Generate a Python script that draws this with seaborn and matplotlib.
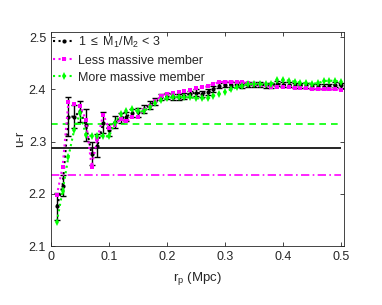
import numpy as np
import pandas as pd
import seaborn as sns
import matplotlib.pyplot as plt

rp = [round(0.01 * i, 2) for i in range(1, 51)]

all_pairs = [2.176, 2.216, 2.348, 2.348, 2.358, 2.332, 2.277, 2.292, 2.336, 2.322,
             2.338, 2.345, 2.348, 2.355, 2.356, 2.362, 2.370, 2.377, 2.386, 2.388,
             2.386, 2.386, 2.388, 2.392, 2.394, 2.392, 2.395, 2.401, 2.407, 2.409,
             2.409, 2.409, 2.408, 2.409, 2.409, 2.409, 2.408, 2.408, 2.411, 2.409,
             2.409, 2.408, 2.408, 2.408, 2.406, 2.406, 2.405, 2.406, 2.409, 2.408]
all_err = [0.026, 0.020, 0.037, 0.022, 0.020, 0.030, 0.022, 0.022, 0.020, 0.012,
           0.012, 0.009, 0.009, 0.008, 0.008, 0.008, 0.007, 0.007, 0.006, 0.006,
           0.006, 0.006, 0.006, 0.006, 0.006, 0.006, 0.006, 0.005, 0.005, 0.005,
           0.005, 0.005, 0.005, 0.005, 0.005, 0.005, 0.005, 0.005, 0.005, 0.005,
           0.005, 0.005, 0.005, 0.005, 0.005, 0.005, 0.005, 0.005, 0.005, 0.005]
less_massive = [2.197, 2.252, 2.376, 2.372, 2.369, 2.342, 2.252, 2.306, 2.352, 2.326,
                2.332, 2.343, 2.339, 2.347, 2.348, 2.361, 2.368, 2.377, 2.388, 2.392,
                2.393, 2.395, 2.398, 2.399, 2.402, 2.404, 2.406, 2.411, 2.414, 2.415,
                2.415, 2.415, 2.414, 2.412, 2.411, 2.408, 2.408, 2.405, 2.405, 2.404,
                2.404, 2.403, 2.403, 2.402, 2.401, 2.401, 2.400, 2.400, 2.400, 2.399]
more_massive = [2.146, 2.206, 2.271, 2.323, 2.355, 2.313, 2.311, 2.311, 2.311, 2.310,
                2.336, 2.353, 2.358, 2.362, 2.358, 2.358, 2.367, 2.375, 2.379, 2.384,
                2.385, 2.385, 2.385, 2.385, 2.383, 2.383, 2.383, 2.388, 2.392, 2.396,
                2.400, 2.404, 2.407, 2.410, 2.411, 2.410, 2.410, 2.410, 2.419, 2.418,
                2.417, 2.415, 2.413, 2.412, 2.411, 2.412, 2.416, 2.417, 2.416, 2.415]

# sample means (horizontal reference lines)
mean_all = 2.288
mean_less = 2.237
mean_more = 2.333

labels = [r'1 $\leq$ M$_1$/M$_2$ < 3', 'Less massive member', 'More massive member']

sns.set_style("ticks")
plt.rcParams['font.family'] = ['Liberation Sans', 'DejaVu Sans']
plt.rcParams['mathtext.fontset'] = 'custom'
plt.rcParams['mathtext.rm'] = 'Liberation Sans'
plt.rcParams['mathtext.it'] = 'Liberation Sans'

df = pd.DataFrame({'rp': rp, 'all': all_pairs, 'less': less_massive, 'more': more_massive})

fig = plt.figure(figsize=(3.82, 3.05), dpi=100)
ax = fig.add_axes([0.1335, 0.193, 0.767, 0.702])

ax.errorbar(df['rp'], df['all'], yerr=all_err, fmt='none', ecolor='black',
            elinewidth=1.0, capsize=2.5, capthick=1.0, zorder=2)
sns.lineplot(data=df, x='rp', y='all', ax=ax, color='black', linestyle=':', marker='o',
             markersize=3, markeredgewidth=0, label=labels[0], zorder=3)
sns.lineplot(data=df, x='rp', y='less', ax=ax, color='#ff00ff', linestyle=':', marker='s',
             markersize=3.3, markeredgewidth=0, label=labels[1], zorder=4)
sns.lineplot(data=df, x='rp', y='more', ax=ax, color='#00ff00', linestyle=':', marker='d',
             markersize=4, markeredgewidth=0, label=labels[2], zorder=5)

ax.hlines(mean_all, 0, rp[-1], colors='black', linestyles='-', linewidth=1.2)
ax.hlines(mean_more, 0, rp[-1], colors='#00ff00', linestyles=(0, (4, 3)), linewidth=1.2)
ax.hlines(mean_less, 0, rp[-1], colors='#ff00ff', linestyles=(0, (5, 2, 1, 2)), linewidth=1.2)

ax.set_xlim(0, 0.505)
ax.set_ylim(2.1, 2.51)
ax.set_xticks([0, 0.1, 0.2, 0.3, 0.4, 0.5])
ax.set_xticklabels(['0', '0.1', '0.2', '0.3', '0.4', '0.5'])
ax.set_yticks([2.1, 2.2, 2.3, 2.4, 2.5])
ax.tick_params(direction='in', top=True, right=True, labelsize=9, length=3, width=0.6,
               colors='#262626')
for s in ax.spines.values():
    s.set_linewidth(0.6)
    s.set_color('#262626')
ax.set_xlabel('r$_p$ (Mpc)', fontsize=9.5, labelpad=5)
ax.set_ylabel('u-r', fontsize=9.5, labelpad=2)

ax.legend(loc='upper left', frameon=False, fontsize=9, handlelength=1.7,
          borderaxespad=0.0, borderpad=0.2, handletextpad=0.25, labelspacing=0.4)

fig.savefig('out.png', dpi=100)
